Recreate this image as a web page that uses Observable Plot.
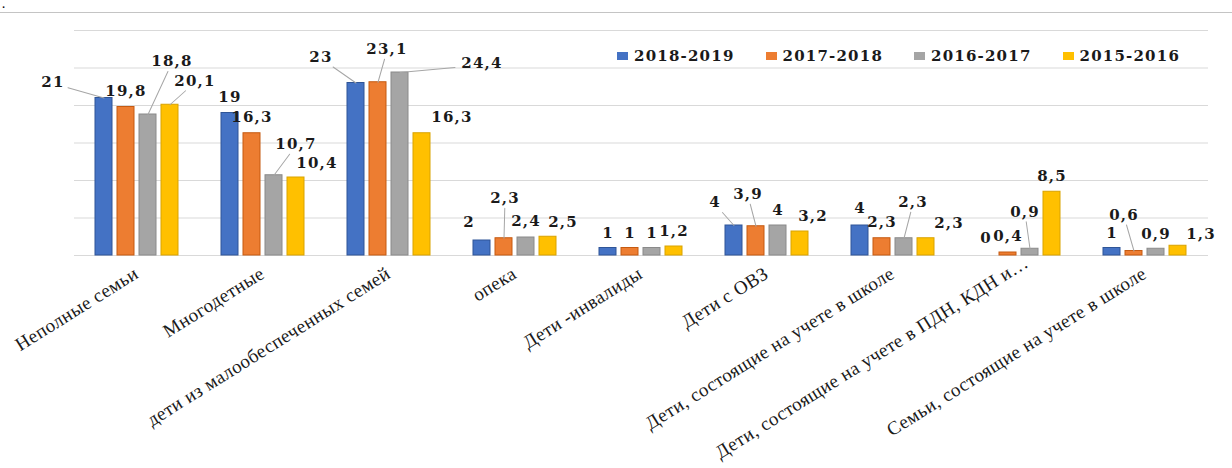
<!DOCTYPE html>
<html>
<head>
<meta charset="utf-8">
<script src="https://cdn.jsdelivr.net/npm/d3@7"></script>
<script src="https://cdn.jsdelivr.net/npm/@observablehq/plot@0.6"></script>
<style>
  html, body { margin: 0; padding: 0; background: #fff; }
  #wrap { position: relative; width: 1232px; height: 468px; overflow: hidden; }
  #topline { position: absolute; left: 0; top: 12px; width: 1232px; height: 0; border-top: 1px solid #c4c4c4; }
  #dot { position: absolute; left: 2px; top: 1px; font: bold 9px "DejaVu Serif"; line-height: 9px; height: 9px; color: #000; }
  #legend { position: absolute; left: 617px; top: 47px; display: flex; }
  .item { width: 148.5px; display: flex; align-items: center; font: bold 15px "DejaVu Serif"; letter-spacing: 1.2px; color: #1a1a1a; white-space: nowrap; }
  .sw { width: 11px; height: 8px; margin-right: 6px; flex: none; }
  svg g[font-family="DejaVu Serif"] text { letter-spacing: 1.2px; }
  svg g[font-family="Liberation Serif"] text { letter-spacing: 0.4px; }
</style>
</head>
<body>
<div id="wrap">
  <div id="topline"></div>
  <div id="dot">.</div>
  <div id="chart"></div>
  <div id="legend"></div>
</div>
<script>
const categories = [
  "Неполные семьи",
  "Многодетные",
  "дети из малообеспеченных семей",
  "опека",
  "Дети -инвалиды",
  "Дети с ОВЗ",
  "Дети, состоящие на учете в школе",
  "Дети, состоящие на учете в ПДН, КДН и…",
  "Семьи, состоящие на учете в школе"
];
const series = ["2018-2019", "2017-2018", "2016-2017", "2015-2016"];
const v2018_2019 = [21, 19, 23, 2, 1, 4, 4, 0, 1];
const v2017_2018 = [19.8, 16.3, 23.1, 2.3, 1, 3.9, 2.3, 0.4, 0.6];
const v2016_2017 = [18.8, 10.7, 24.4, 2.4, 1, 4, 2.3, 0.9, 0.9];
const v2015_2016 = [20.1, 10.4, 16.3, 2.5, 1.2, 3.2, 2.3, 8.5, 1.3];
const yTicks = [0, 5, 10, 15, 20, 25, 30];

// styles
const fills = ["#4472C4", "#ED7D31", "#A5A5A5", "#FFC000"];
const strokes = ["#2F5597", "#C55A11", "#8A8A8A", "#D9A300"];
// small extra nudge of category tick labels [dx, dy] (px)
const tickNudge = [[0,0],[0,0],[0,0],[0,0],[0,0],[0,0],[0,0],[8,-11],[0,0]];
// label nudges per category, per series: [dx, dy, leader]
const labelNudge = [
  [[-51,-16,1],[0,-16,0],[24,-53,1],[25,-24,1]],
  [[0,-16,0],[0,-16,0],[22,-31,1],[21,-14,0]],
  [[-35,-26,1],[9,-33,1],[82,-9,1],[30,-16,0]],
  [[-13,-18,0],[1,-40,1],[0,-16,0],[15,-15,0]],
  [[0,-15,0],[0,-15,0],[0,-15,0],[0,-15,0]],
  [[-19,-23,1],[-8,-32,1],[0,-15,0],[13,-15,0]],
  [[0,-17,0],[0,-16,0],[9,-36,1],[23,-15,0]],
  [[0,-17,0],[0,-16,0],[-5,-37,1],[0,-16,0]],
  [[0,-15,0],[-10,-36,1],[0,-15,0],[23,-12,0]]
];

const values = [v2018_2019, v2017_2018, v2016_2017, v2015_2016];
const fmt = v => String(v).replace(".", ",");
const rows = categories.flatMap((c, i) => series.map((s, j) => ({
  cat: c, series: s, value: values[j][i], label: fmt(values[j][i]),
  fill: fills[j], stroke: strokes[j], nudge: labelNudge[i][j]
})));

const lineShape = { draw(context, l) { context.moveTo(0, 0); context.lineTo(0, -l); } };

const labelMarks = rows.map(d => Plot.text([d], {
  fx: "cat", x: "series", y: "value", text: "label",
  dx: d.nudge[0], dy: d.nudge[1],
  fontSize: 15, fontWeight: "bold", fontFamily: "DejaVu Serif", fill: "#1a1a1a"
}));

const leaderMarks = rows.filter(d => d.nudge[2]).map(d => {
  const [ex, ey] = d.nudge;
  const hw = d.label.length * 6 + 3, hh = 9;
  const t = Math.min(Math.abs(ex) > 0 ? hw / Math.abs(ex) : 1, hh / Math.abs(ey));
  const px = ex * (1 - t), py = ey * (1 - t) + 1;
  const len = Math.hypot(px, py);
  const rot = Math.atan2(px, -py) * 180 / Math.PI;
  return Plot.vector([d], {
    fx: "cat", x: "series", y: "value", anchor: "start",
    length: len, rotate: rot, shape: lineShape,
    stroke: "#a6a6a6", strokeWidth: 1
  });
});

// category tick labels, placed at each facet's bottom through the fx scale
const axisMarks = categories.map((c, i) => Plot.text([c], {
  fx: d => d, text: d => d, frameAnchor: "bottom",
  rotate: -32, textAnchor: "end", lineAnchor: "top",
  dx: -5 + tickNudge[i][0], dy: 10 + tickNudge[i][1],
  fontSize: 19, fontFamily: "Liberation Serif", fill: "#1a1a1a"
}));

const chart = Plot.plot({
  width: 1232, height: 468,
  marginTop: 30, marginBottom: 213, marginLeft: 72, marginRight: 23,
  fx: { domain: categories, padding: 0, label: null, axis: null },
  x: { domain: series, paddingInner: 0.22, paddingOuter: 0.85, axis: null },
  y: { domain: [0, 30], axis: null },
  color: { type: "identity" },
  style: { background: "transparent", overflow: "visible" },
  marks: [
    Plot.ruleY(yTicks, { stroke: "#d9d9d9", strokeWidth: 1.2 }),
    Plot.barY(rows, { fx: "cat", x: "series", y: "value", fill: "fill", stroke: "stroke", strokeWidth: 1 }),
    ...leaderMarks,
    ...labelMarks,
    ...axisMarks
  ]
});
document.getElementById("chart").appendChild(chart);

const legend = document.getElementById("legend");
series.forEach((s, j) => {
  const it = document.createElement("div");
  it.className = "item";
  const sw = document.createElement("span");
  sw.className = "sw";
  sw.style.background = fills[j];
  const tx = document.createElement("span");
  tx.textContent = s;
  it.appendChild(sw); it.appendChild(tx);
  legend.appendChild(it);
});
</script>
</body>
</html>
